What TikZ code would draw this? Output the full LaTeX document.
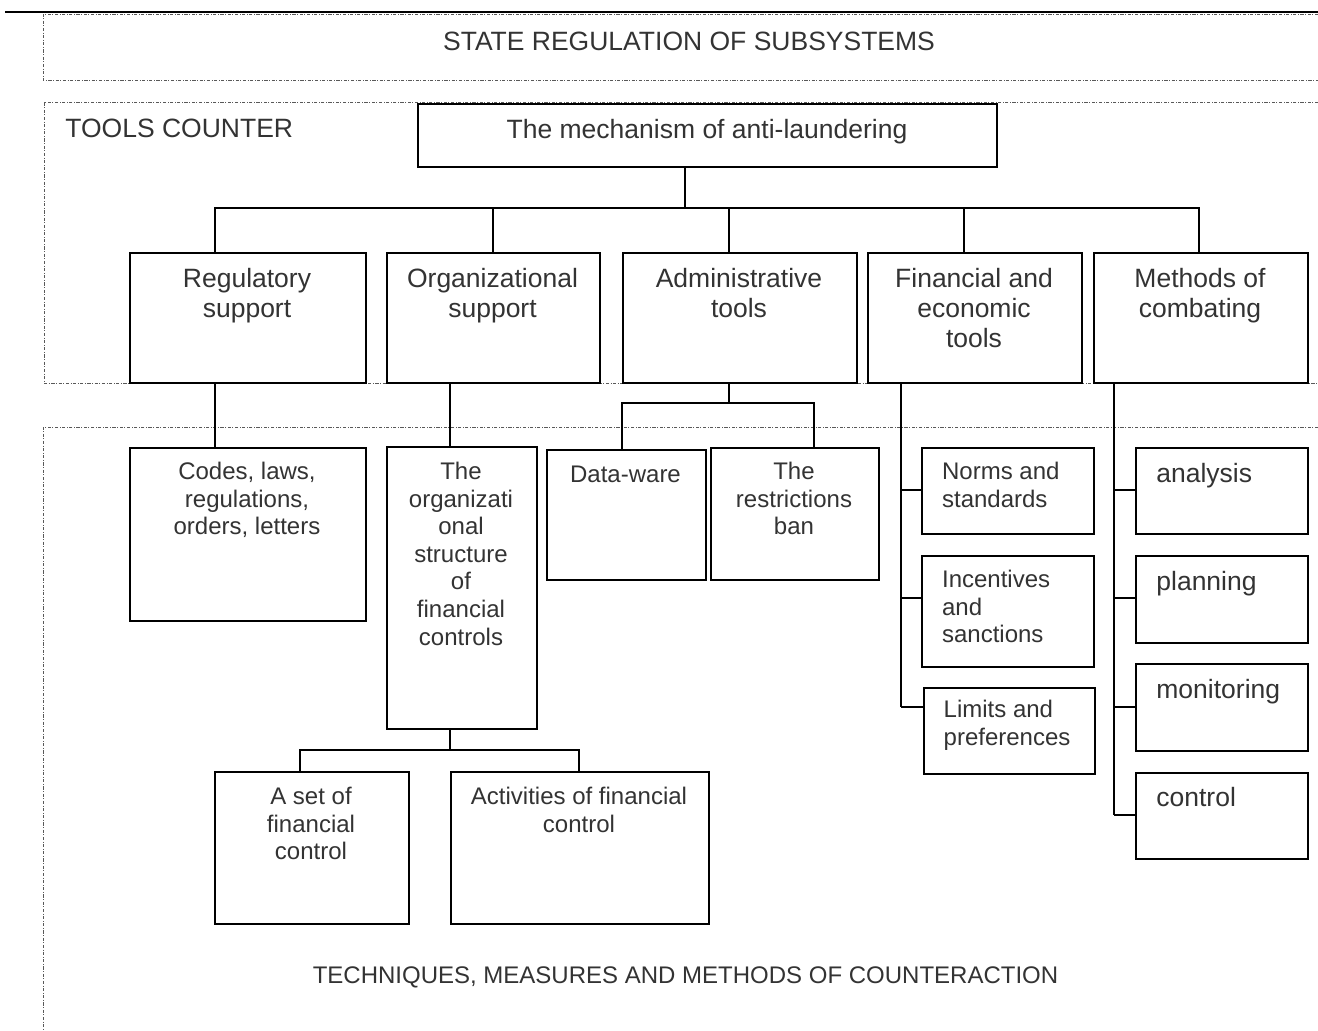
\documentclass[tikz,border=0pt]{standalone}
\usepackage{fontspec}
\setmainfont{Liberation Sans}
\definecolor{txt}{rgb}{0.2,0.2,0.2}
\definecolor{frm}{rgb}{0.35,0.35,0.35}
\newcommand{\mkbox}[5]{\node[bx,anchor=north west,minimum width={(#4-#2)*0.5pt},minimum height={(#5-#3)*0.5pt}] (#1) at (#2,#3) {};}
\begin{document}
\begin{tikzpicture}[x=0.5pt,y=-0.5pt,
  bx/.style={draw=black,line width=0.8pt,inner sep=0pt,fill=white},
  big/.style={inner sep=0pt,text=txt,align=center,font=\fontsize{13.25pt}{15pt}\selectfont},
  small/.style={inner sep=0pt,text=txt,align=center,font=\fontsize{12pt}{13.8pt}\selectfont},
  smallL/.style={small,align=left,anchor=north west},
  bigL/.style={big,align=left,anchor=north west},
  frame/.style={draw=frm,line width=0.5pt,dash pattern=on 1.6pt off 0.8pt on 0.4pt off 0.8pt},
  conn/.style={draw=black,line width=0.8pt}]
\useasboundingbox (0,0) rectangle (1318,1030);

% dash-dot frames
\draw[frame] (1318,14) -- (43,14) -- (43,80) -- (1318,80);
\draw[frame] (1318,102) -- (44,102) -- (44,383) -- (1318,383);
\draw[frame] (1318,427) -- (43,427) -- (43,1030);
% top rule
\draw[line width=1.1pt] (5,12) -- (1318,12);

% frame labels
\node[big,anchor=base] (state) at (689,50) {STATE REGULATION OF SUBSYSTEMS};
\node[big,anchor=base west] (tools) at (65,137) {TOOLS COUNTER};
\node[small,anchor=base] (tech) at (685.5,983) {TECHNIQUES, MEASURES AND METHODS OF COUNTERACTION};

% connectors (drawn first, boxes on top)
\coordinate (bus) at (685,208);
\coordinate (abus) at (729,403);
\coordinate (obus) at (450,750);

% boxes
\mkbox{mech}{417}{103}{996}{166}
\mkbox{reg}{129}{252}{365}{382}
\mkbox{org}{386}{252}{599}{382}
\mkbox{adm}{622}{252}{856}{382}
\mkbox{fin}{867}{252}{1081}{382}
\mkbox{meth}{1093}{252}{1307}{382}
\mkbox{codes}{129}{447}{365}{620}
\mkbox{os}{386}{446}{536}{728}
\mkbox{data}{546}{449}{705}{579}
\mkbox{ban}{710}{447}{878}{579}
\mkbox{norms}{921}{447}{1093}{533}
\mkbox{inc}{921}{555}{1093}{666}
\mkbox{lim}{923}{687}{1094}{773}
\mkbox{ana}{1135}{447}{1307}{533}
\mkbox{plan}{1135}{555}{1307}{642}
\mkbox{mon}{1135}{663}{1307}{750}
\mkbox{ctl}{1135}{772}{1307}{858}
\mkbox{set}{214}{771}{408}{923}
\mkbox{act}{450}{771}{708}{923}

% texts
\node[big,anchor=north] (mech-t) at (707,117) {\strut The mechanism of anti-laundering};
\node[big,anchor=north] (reg-t) at (247,266) {\strut Regulatory\\support};
\node[big,anchor=north] (org-t) at (492.5,266) {\strut Organizational\\support};
\node[big,anchor=north] (adm-t) at (739,266) {\strut Administrative\\tools};
\node[big,anchor=north] (fin-t) at (974,266) {\strut Financial and\\economic\\tools};
\node[big,anchor=north] (meth-t) at (1200,266) {\strut Methods of\\combating};
\node[small,anchor=north] (codes-t) at (247,459.7) {\strut Codes, laws,\\regulations,\\orders, letters};
\node[small,anchor=north] (os-t) at (461,459.7) {\strut The\\organizati\\onal\\structure\\of\\financial\\controls};
\node[small,anchor=north] (data-t) at (625.5,462.4) {\strut Data-ware};
\node[small,anchor=north] (ban-t) at (794,459.7) {\strut The\\restrictions\\ban};
\node[smallL] (norms-t) at (941.7,460) {\strut Norms and\\standards};
\node[smallL] (inc-t) at (941.7,568) {\strut Incentives\\and\\sanctions};
\node[smallL] (lim-t) at (943.3,698) {\strut Limits and\\preferences};
\node[bigL] (ana-t) at (1156,460.7) {\strut analysis};
\node[bigL] (plan-t) at (1156,569) {\strut planning};
\node[bigL] (mon-t) at (1156,677.3) {\strut monitoring};
\node[bigL] (ctl-t) at (1156,785) {\strut control};
\node[small,anchor=north] (set-t) at (311,785) {\strut A set of\\financial\\control};
\node[small,anchor=north] (act-t) at (579,785) {\strut Activities of financial\\control};

% top-level connectors
\draw[conn] (mech.south -| bus) -- (bus);
\draw[conn] (215,0 |- reg.north) -- (215,0 |- bus) -- (1199,0 |- bus) -- (1199,0 |- meth.north);
\draw[conn] (493,0 |- bus) -- (493,0 |- org.north);
\draw[conn] (729,0 |- bus) -- (729,0 |- adm.north);
\draw[conn] (964,0 |- bus) -- (964,0 |- fin.north);

% regulatory
\draw[conn] (215,0 |- reg.south) -- (215,0 |- codes.north);
% organizational
\draw[conn] (450,0 |- org.south) -- (450,0 |- os.north);
\draw[conn] (450,0 |- os.south) -- (obus);
\draw[conn] (300,0 |- set.north) -- (300,0 |- obus) -- (579,0 |- obus) -- (579,0 |- act.north);
% administrative
\draw[conn] (adm.south -| abus) -- (abus);
\draw[conn] (622,0 |- data.north) -- (622,0 |- abus) -- (814,0 |- abus) -- (814,0 |- ban.north);
% financial
\draw[conn] (901,0 |- fin.south) -- (901,707);
\draw[conn] (901,490) -- (norms.west |- 0,490);
\draw[conn] (901,598) -- (inc.west |- 0,598);
\draw[conn] (901,707) -- (lim.west |- 0,707);
% methods
\draw[conn] (1114,0 |- meth.south) -- (1114,815);
\draw[conn] (1114,490) -- (ana.west |- 0,490);
\draw[conn] (1114,598) -- (plan.west |- 0,598);
\draw[conn] (1114,707) -- (mon.west |- 0,707);
\draw[conn] (1114,815) -- (ctl.west |- 0,815);
\end{tikzpicture}
\end{document}
